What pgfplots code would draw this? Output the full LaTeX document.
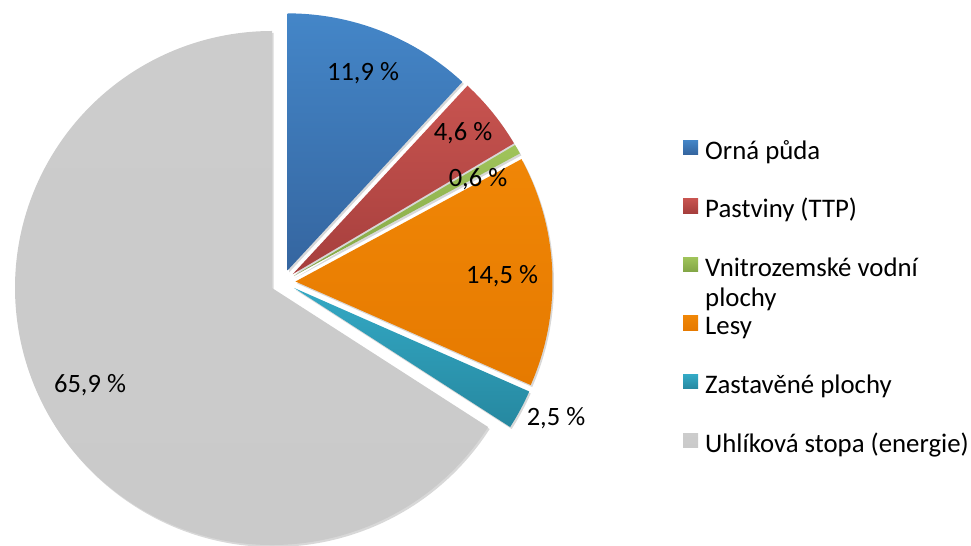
\documentclass[border=0pt]{standalone}
\usepackage{pgfplots}
\pgfplotsset{compat=1.18}
\usepackage{fontspec}
\setmainfont{Carlito}
\usetikzlibrary{shadows}
\definecolor{blueT}{RGB}{68,134,200}
\definecolor{blueB}{RGB}{52,100,158}
\definecolor{redT}{RGB}{200,84,80}
\definecolor{redB}{RGB}{165,62,60}
\definecolor{greenT}{RGB}{160,196,90}
\definecolor{greenB}{RGB}{130,165,70}
\definecolor{orangeT}{RGB}{240,134,6}
\definecolor{orangeB}{RGB}{230,122,0}
\definecolor{tealT}{RGB}{52,170,198}
\definecolor{tealB}{RGB}{38,136,160}
\definecolor{grayT}{RGB}{204,204,204}
\definecolor{grayB}{RGB}{202,202,202}
\begin{document}
\begin{tikzpicture}
\begin{axis}[
  hide axis, scale only axis, width=971bp, height=546bp,
  xmin=0, xmax=971, ymin=0, ymax=546, y dir=reverse, clip=false]
\addplot[draw=none] coordinates {(0,0)};
\pgfplotsextra{
  \gdef\s{90}
  \foreach \v/\ct/\cb in {11.9/blueT/blueB, 4.6/redT/redB, 0.6/greenT/greenB, 14.5/orangeT/orangeB, 2.5/tealT/tealB, 65.9/grayT/grayB}{
    \pgfmathsetmacro\e{\s-3.6*\v}
    \pgfmathsetmacro\m{(\s+\e)/2}
    \path[top color=\ct, bottom color=\cb, drop shadow={shadow xshift=1.5bp, shadow yshift=-2bp, opacity=0.22, fill=black!70}]
      (axis cs:283,282) ++(\m:12.5bp) -- ++(\s:257bp) arc[start angle=\s, end angle=\e, radius=257bp] -- cycle;
    \xdef\s{\e}
  }
  \begin{scope}[every node/.style={font=\fontsize{26.6}{31}\selectfont, text=black}]
  \node at (axis cs:363,73) {11,9 \%};
  \node at (axis cs:463,133) {4,6 \%};
  \node at (axis cs:478,179) {0,6 \%};
  \node at (axis cs:502,276) {14,5 \%};
  \node at (axis cs:556,418) {2,5 \%};
  \node at (axis cs:90,385) {65,9 \%};
  \end{scope}
  \begin{scope}[every node/.style={font=\fontsize{26.9}{31}\selectfont, text=black}]
  \foreach \bl/\ct/\cb/\t in {159/blueT/blueB/{Orná půda}, 217.6/redT/redB/{Pastviny (TTP)}, 276.2/greenT/greenB/{Vnitrozemské vodní}, 334.8/orangeT/orangeB/{Lesy}, 393.4/tealT/tealB/{Zastavěné plochy}, 452/grayT/grayB/{Uhlíková stopa (energie)}}{
    \path[top color=\ct, bottom color=\cb] (axis cs:683,\bl-19) rectangle (axis cs:698,\bl-4.5);
    \node[anchor=base west, inner sep=0pt] at (axis cs:705,\bl) {\t};
  }
  \node[anchor=base west, inner sep=0pt] at (axis cs:705,306) {plochy};
  \end{scope}
}
\end{axis}
\pgfresetboundingbox
\path (0,0) rectangle (971bp,546bp);
\end{tikzpicture}
\end{document}
